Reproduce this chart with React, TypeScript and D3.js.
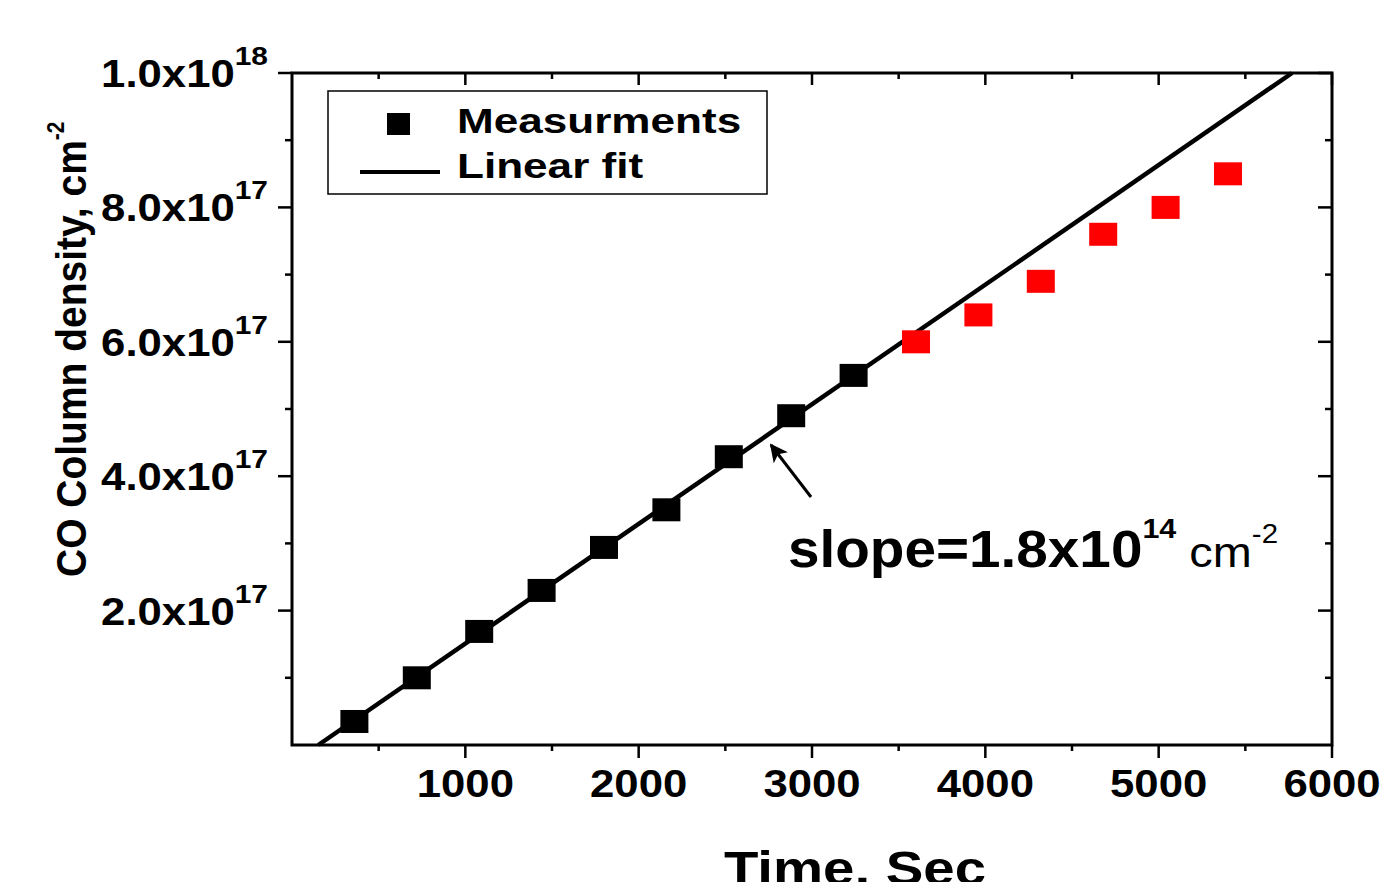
import React from "react";
import * as d3 from "d3";

const blackTimes = [360, 720, 1080, 1440, 1800, 2160, 2520, 2880, 3240];
const blackValues = [3.5e16, 1.0e17, 1.69e17, 2.3e17, 2.94e17, 3.5e17, 4.29e17, 4.9e17, 5.5e17];
const redTimes = [3600, 3960, 4320, 4680, 5040, 5400];
const redValues = [6.0e17, 6.4e17, 6.9e17, 7.6e17, 8.0e17, 8.5e17];
const fitSlope = 1.78e14;
const fitIntercept = -2.7e16;
const xMajorTicks = [1000, 2000, 3000, 4000, 5000, 6000];
const xMinorTicks = [500, 1500, 2500, 3500, 4500, 5500];
const yMajorTicks = [2e17, 4e17, 6e17, 8e17, 1e18];
const yMinorTicks = [1e17, 3e17, 5e17, 7e17, 9e17];
const yTickMantissa = ["2.0", "4.0", "6.0", "8.0", "1.0"];
const yTickExponent = ["17", "17", "17", "17", "18"];

const FONT = "'Liberation Sans', Arial, Helvetica, sans-serif";

export default function App() {
  const x = d3.scaleLinear().domain([0, 6000]).range([292, 1332]);
  const y = d3.scaleLinear().domain([0, 1e18]).range([745, 73]);
  const [x0, x1] = x.range();
  const [yb, yt] = y.range();

  const tStart = -fitIntercept / fitSlope;
  const tEnd = (1e18 - fitIntercept) / fitSlope;
  const fitData = [tStart, tEnd].map((t) => [t, fitSlope * t + fitIntercept]);
  const line = d3
    .line<number[]>()
    .x((d) => x(d[0]))
    .y((d) => y(d[1]));

  const mw = 28;
  const mh = 23;

  return (
    <svg
      width={1393}
      height={882}
      style={{ position: "absolute", left: 0, top: 0, background: "#fff" }}
      fontFamily={FONT}
    >
      <defs>
        <marker id="arrow" viewBox="0 0 10 10" refX="9" refY="5" markerWidth="6" markerHeight="6" orient="auto">
          <path d="M0,0 L10,5 L0,10 L2.5,5 z" fill="#000" />
        </marker>
      </defs>

      {/* fit line */}
      <path d={line(fitData) || ""} stroke="#000" strokeWidth={4.5} fill="none" />

      {/* markers */}
      {blackTimes.map((t, i) => (
        <rect key={"b" + i} x={x(t) - mw / 2} y={y(blackValues[i]) - mh / 2} width={mw} height={mh} fill="#000" />
      ))}
      {redTimes.map((t, i) => (
        <rect key={"r" + i} x={x(t) - mw / 2} y={y(redValues[i]) - mh / 2} width={mw} height={mh} fill="#ff0000" />
      ))}

      {/* frame */}
      <rect x={x0} y={yt} width={x1 - x0} height={yb - yt} fill="none" stroke="#000" strokeWidth={3} />

      {/* x ticks bottom (outward) and top (inward) */}
      {xMajorTicks.map((t) => (
        <g key={"xm" + t}>
          <line x1={x(t)} x2={x(t)} y1={yb} y2={yb + 13} stroke="#000" strokeWidth={2.5} />
          <line x1={x(t)} x2={x(t)} y1={yt} y2={yt + 12} stroke="#000" strokeWidth={2.5} />
          <text
            transform={`translate(${x(t)},797) scale(1.15,1)`}
            textAnchor="middle"
            fontSize={38}
            fontWeight="bold"
          >
            {t}
          </text>
        </g>
      ))}
      {xMinorTicks.map((t) => (
        <g key={"xn" + t}>
          <line x1={x(t)} x2={x(t)} y1={yb} y2={yb + 6} stroke="#000" strokeWidth={2.5} />
          <line x1={x(t)} x2={x(t)} y1={yt} y2={yt + 6} stroke="#000" strokeWidth={2.5} />
        </g>
      ))}

      {/* y ticks left (outward) and right (inward) */}
      {yMajorTicks.map((v, i) => (
        <g key={"ym" + v}>
          <line x1={x0 - 14} x2={x0} y1={y(v)} y2={y(v)} stroke="#000" strokeWidth={2.5} />
          <line x1={x1 - 14} x2={x1} y1={y(v)} y2={y(v)} stroke="#000" strokeWidth={2.5} />
          <text
            transform={`translate(268,${y(v) + 14}) scale(1.15,1)`}
            textAnchor="end"
            fontSize={38}
            fontWeight="bold"
          >
            {yTickMantissa[i] + "x10"}
            <tspan fontSize={26} dy={-22}>
              {yTickExponent[i]}
            </tspan>
          </text>
        </g>
      ))}
      {yMinorTicks.map((v) => (
        <g key={"yn" + v}>
          <line x1={x0 - 7} x2={x0} y1={y(v)} y2={y(v)} stroke="#000" strokeWidth={2.5} />
          <line x1={x1 - 7} x2={x1} y1={y(v)} y2={y(v)} stroke="#000" strokeWidth={2.5} />
        </g>
      ))}

      {/* axis titles */}
      <text
        transform={`translate(855,885) scale(1.15,1)`}
        textAnchor="middle"
        fontSize={49}
        fontWeight="bold"
      >
        Time, Sec
      </text>
      <text
        transform={`translate(86,577) scale(1.1,1) rotate(-90)`}
        textAnchor="start"
        fontSize={39}
        fontWeight="bold"
      >
        CO Column density, cm
        <tspan fontSize={21} dy={-20}>
          -2
        </tspan>
      </text>

      {/* legend */}
      <rect x={328} y={91} width={439} height={103} fill="#fff" stroke="#000" strokeWidth={1.5} />
      <rect x={387} y={113} width={23} height={22} fill="#000" />
      <line x1={360} x2={440} y1={172} y2={172} stroke="#000" strokeWidth={4} />
      <text transform="translate(457,133) scale(1.26,1)" fontSize={35} fontWeight="bold">
        Measurments
      </text>
      <text transform="translate(457,178) scale(1.26,1)" fontSize={35} fontWeight="bold">
        Linear fit
      </text>

      {/* annotation */}
      <line x1={811} y1={497} x2={771} y2={445} stroke="#000" strokeWidth={3} markerEnd="url(#arrow)" />
      <text transform="translate(788,567) scale(1.09,1)" fontSize={52} fontWeight="bold">
        slope=1.8x10
        <tspan fontSize={28} dy={-29}>
          14
        </tspan>
        <tspan fontSize={43} fontWeight="normal" dy={29}>
          {" cm"}
        </tspan>
        <tspan fontSize={27} fontWeight="normal" dy={-24}>
          -2
        </tspan>
      </text>
    </svg>
  );
}
